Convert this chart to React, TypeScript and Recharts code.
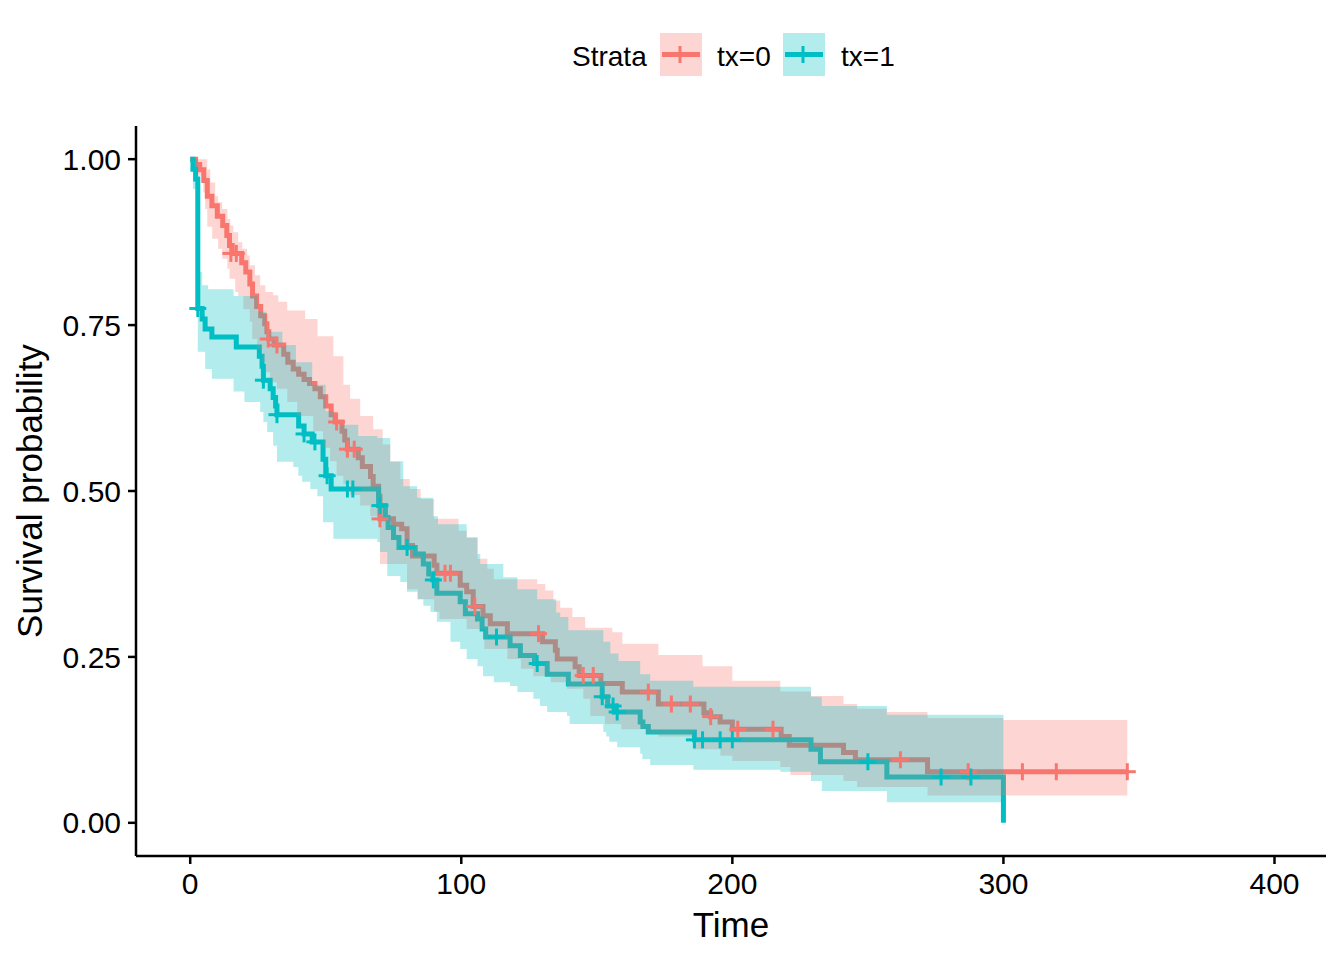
import { ComposedChart, Line, Area, Scatter, XAxis, YAxis } from "recharts"

const RED = "#F8766D"
const TEAL = "#00BFC4"
const FONT = "'Liberation Sans', Arial, sans-serif"

const xTicks = [0, 100, 200, 300, 400]
const yTicks = [0, 0.25, 0.5, 0.75, 1]
const strata = ["tx=0", "tx=1"]

// Kaplan-Meier step points: [time, survival]
const redSteps: [number, number][] = [
  [0, 1], [2, 0.992], [3.5, 0.984], [5, 0.968], [6.3, 0.944], [8, 0.93], [10, 0.914], [12, 0.9],
  [13.5, 0.885], [14.5, 0.87], [15.5, 0.858], [19, 0.844], [20.5, 0.83], [22, 0.812], [23, 0.794],
  [24.5, 0.778], [26, 0.764], [27.5, 0.752], [28.3, 0.74], [29, 0.729], [31, 0.72], [34.5, 0.706],
  [36, 0.694], [38, 0.684], [40, 0.676], [42, 0.668], [44, 0.662], [46, 0.654], [48, 0.642],
  [50, 0.628], [52, 0.615], [53.5, 0.604], [56, 0.59], [57, 0.577], [58, 0.563], [62, 0.55],
  [63.5, 0.537], [66.5, 0.522], [67.5, 0.507], [69.5, 0.492], [70, 0.458], [75, 0.45], [78, 0.443],
  [80, 0.418], [82, 0.402], [90, 0.388], [91, 0.376], [99.6, 0.358], [102, 0.348], [104.4, 0.326],
  [108, 0.312], [110.7, 0.3], [117, 0.285], [130, 0.273], [134.7, 0.26], [135.4, 0.247], [142, 0.235],
  [143.5, 0.222], [151.5, 0.21], [159.4, 0.197], [172.7, 0.179], [189.5, 0.166], [192, 0.16],
  [195.5, 0.152], [200, 0.141], [218, 0.13], [221, 0.117], [241, 0.106], [245.4, 0.095], [272, 0.077],
  [345.7, 0.077],
]

const tealSteps: [number, number][] = [
  [0, 1], [1, 0.985], [2, 0.97], [2.8, 0.775], [4.4, 0.759], [5.5, 0.744], [8, 0.732], [17, 0.717],
  [25.5, 0.703], [26.5, 0.688], [27, 0.667], [29.5, 0.654], [30.6, 0.641], [31.5, 0.628], [32, 0.615],
  [40, 0.598], [42, 0.586], [45, 0.574], [49, 0.548], [50, 0.523], [52, 0.503], [69.5, 0.478],
  [72, 0.46], [73, 0.445], [75, 0.43], [77, 0.415], [83, 0.405], [86, 0.39], [88, 0.375], [89.5, 0.366],
  [91, 0.346], [99.6, 0.333], [101.5, 0.315], [106, 0.307], [107.7, 0.292], [109, 0.28], [118, 0.267],
  [121.8, 0.252], [127, 0.24], [131.7, 0.224], [139.5, 0.209], [152, 0.19], [154, 0.176], [157, 0.167],
  [166, 0.152], [167, 0.145], [169, 0.137], [186, 0.125], [229, 0.111], [232.5, 0.092], [257, 0.069],
  [300, 0],
]

// confidence bands: [time, bound]
const redUpper: [number, number][] = [
  [0, 1], [6.3, 0.985], [7.4, 0.965], [9.2, 0.944], [10.3, 0.935], [11.8, 0.925], [13.7, 0.91],
  [14.8, 0.9], [15.9, 0.89], [17.7, 0.875], [19.2, 0.865], [21, 0.855], [22, 0.84], [23.9, 0.825],
  [25.8, 0.81], [27.7, 0.8], [30.6, 0.795], [32.5, 0.785], [35.8, 0.772], [42.4, 0.759], [47, 0.733],
  [52.8, 0.703], [56.5, 0.66], [59, 0.639], [62.7, 0.613], [67.5, 0.593], [71, 0.57], [73.8, 0.544],
  [77.5, 0.518], [81, 0.503], [85, 0.488], [90, 0.458], [99, 0.44], [102, 0.43], [106, 0.398],
  [109.6, 0.383], [112, 0.367], [128, 0.36], [131, 0.35], [134, 0.335], [136.5, 0.324], [141, 0.31],
  [145.7, 0.294], [155.7, 0.287], [159.4, 0.27], [172.7, 0.253], [189, 0.236], [200, 0.214],
  [217.7, 0.198], [229, 0.191], [241, 0.179], [246, 0.172], [257, 0.167], [272, 0.158], [300, 0.155],
]

const redLower: [number, number][] = [
  [0, 1], [2.9, 0.975], [4.8, 0.95], [5.5, 0.925], [6.3, 0.898], [8.1, 0.88], [10.3, 0.865],
  [11.8, 0.85], [13.7, 0.835], [14.5, 0.82], [16.6, 0.8], [17.7, 0.794], [19.6, 0.774], [22, 0.755],
  [22.9, 0.729], [24.7, 0.714], [26.6, 0.694], [27.7, 0.679], [29.5, 0.664], [32, 0.654], [35.8, 0.634],
  [39.5, 0.613], [45.4, 0.59], [49, 0.565], [51.6, 0.545], [54, 0.523], [56.5, 0.51], [59, 0.494],
  [62.7, 0.478], [66.4, 0.462], [70, 0.39], [80, 0.352], [84, 0.337], [90, 0.318], [92, 0.307],
  [102, 0.292], [108.5, 0.262], [117, 0.247], [122, 0.232], [126.6, 0.221], [133, 0.212], [139, 0.202],
  [145, 0.187], [147.6, 0.161], [153, 0.149], [159, 0.141], [168, 0.134], [172.7, 0.13], [185.6, 0.111],
  [195.6, 0.101], [200, 0.093], [217.7, 0.084], [221.4, 0.072], [241, 0.063], [246, 0.054], [272, 0.041],
]

const tealUpper: [number, number][] = [
  [0, 1], [2.8, 0.83], [4.4, 0.81], [6.6, 0.804], [16, 0.794], [25, 0.77], [28, 0.74], [34, 0.72],
  [39, 0.694], [45, 0.66], [50, 0.62], [53, 0.6], [62, 0.583], [69, 0.58], [73.8, 0.545], [78.6, 0.507],
  [83.7, 0.49], [89.6, 0.462], [91.4, 0.45], [102, 0.43], [106, 0.405], [107, 0.39], [115.5, 0.37],
  [120.7, 0.352], [128, 0.337], [135, 0.317], [136.5, 0.31], [139.5, 0.29], [152.4, 0.273], [155, 0.255],
  [158, 0.244], [166, 0.224], [169.7, 0.214], [185.6, 0.205], [229, 0.19], [233, 0.176], [257, 0.163],
]

const tealLower: [number, number][] = [
  [0, 1], [1, 0.955], [2, 0.935], [2.8, 0.71], [5.5, 0.684], [8, 0.669], [16, 0.65], [20, 0.634],
  [25.8, 0.619], [27, 0.604], [28.4, 0.589], [30.6, 0.568], [32, 0.544], [38, 0.536], [39.9, 0.523],
  [41.3, 0.514], [44.3, 0.503], [46.9, 0.492], [49, 0.453], [52.8, 0.428], [69, 0.423], [70, 0.408],
  [72.7, 0.372], [77.5, 0.363], [80, 0.348], [83.8, 0.337], [86, 0.327], [88.6, 0.318], [91, 0.303],
  [96, 0.273], [99.6, 0.262], [102, 0.247], [106, 0.236], [108, 0.221], [112, 0.212], [118, 0.206],
  [120.7, 0.197], [126.6, 0.187], [129, 0.176], [131.7, 0.167], [139, 0.161], [140, 0.149],
  [152.4, 0.137], [153.5, 0.13], [154.6, 0.122], [157.5, 0.114], [166, 0.104], [166.8, 0.096],
  [169.7, 0.087], [185.6, 0.08], [217.7, 0.077], [229, 0.063], [233, 0.048], [257, 0.031],
]

// censored observations
const redCensor: [number, number][] = [
  [15, 0.858], [17, 0.858], [28.8, 0.729], [32, 0.72], [54, 0.604], [58, 0.563], [60.5, 0.563],
  [70, 0.458], [94, 0.376], [96, 0.376], [105, 0.326], [128.5, 0.285], [145, 0.222], [148.7, 0.222],
  [169, 0.197], [177.5, 0.179], [184.5, 0.179], [192, 0.16], [202, 0.141], [215, 0.141], [262, 0.095],
  [287, 0.077], [307, 0.077], [319.5, 0.077], [345.7, 0.077],
]

const tealCensor: [number, number][] = [
  [2.8, 0.775], [27, 0.667], [32, 0.615], [42, 0.586], [46, 0.574], [50.5, 0.523], [58, 0.503],
  [60, 0.503], [70, 0.478], [80, 0.415], [89.7, 0.366], [113, 0.28], [128, 0.24], [152, 0.19],
  [156, 0.176], [157.5, 0.167], [186, 0.125], [189, 0.125], [195.5, 0.125], [200, 0.125], [250, 0.092],
  [277, 0.069], [288, 0.069],
]

const toRows = (pts: [number, number][]) => pts.map(([t, s]) => ({ t, s }))

const valueAt = (pts: [number, number][], t: number) => {
  let v = pts[0][1]
  for (const [x, y] of pts) if (x <= t) v = y
  return v
}

function bandRows(lower: [number, number][], upper: [number, number][], end: number) {
  const times = Array.from(new Set([...lower.map((p) => p[0]), ...upper.map((p) => p[0])])).sort((a, b) => a - b)
  const rows = times.map((t) => ({ t, band: [valueAt(lower, t), valueAt(upper, t)] }))
  rows.push({ t: end, band: [valueAt(lower, end), valueAt(upper, end)] })
  return rows
}

const redBand = bandRows(redLower, redUpper, 345.7)
const tealBand = bandRows(tealLower, tealUpper, 300)

const Cross = (color: string) => (props: any) => {
  const { cx, cy } = props
  if (cx == null || cy == null) return null
  return (
    <g stroke={color} strokeWidth={3}>
      <line x1={cx - 8.5} y1={cy} x2={cx + 8.5} y2={cy} />
      <line x1={cx} y1={cy - 8.5} x2={cx} y2={cy + 8.5} />
    </g>
  )
}

function LegendKey({ x, color }: { x: number; color: string }) {
  return (
    <g>
      <rect x={x} y={33} width={42} height={43} fill={color} fillOpacity={0.3} />
      <line x1={x + 2} y1={54.5} x2={x + 40} y2={54.5} stroke={color} strokeWidth={5} />
      <line x1={x + 20} y1={46} x2={x + 20} y2={63} stroke={color} strokeWidth={3} />
    </g>
  )
}

export default function App() {
  return (
    <div style={{ position: "relative", width: 1344, height: 960, background: "#fff", fontFamily: FONT }}>
      <style>{"body{margin:0}"}</style>
      <ComposedChart width={1344} height={960} margin={{ top: 126, right: 18, bottom: 0, left: 0 }}>
        <XAxis
          dataKey="t"
          type="number"
          domain={[-20, 419]}
          ticks={xTicks}
          allowDataOverflow
          height={104}
          tickSize={8}
          tickMargin={9}
          tick={{ fill: "#000", fontSize: 30, fontFamily: FONT }}
          axisLine={{ stroke: "#000", strokeWidth: 2.5 }}
          tickLine={{ stroke: "#000", strokeWidth: 2.5 }}
          label={{ value: "Time", position: "insideBottom", offset: 23, fill: "#000", fontSize: 35, fontFamily: FONT }}
        />
        <YAxis
          type="number"
          domain={[-0.05, 1.05]}
          ticks={yTicks}
          allowDataOverflow
          width={136}
          tickSize={8}
          tickMargin={7}
          tickFormatter={(v: number) => v.toFixed(2)}
          tick={{ fill: "#000", fontSize: 30, fontFamily: FONT }}
          axisLine={{ stroke: "#000", strokeWidth: 2.5 }}
          tickLine={{ stroke: "#000", strokeWidth: 2.5 }}
          label={{
            value: "Survival probability",
            angle: -90,
            position: "insideLeft",
            offset: 30,
            fill: "#000",
            fontSize: 35,
            fontFamily: FONT,
            style: { textAnchor: "middle" },
          }}
        />
        <Line data={toRows(redSteps)} dataKey="s" type="stepAfter" stroke={RED} strokeWidth={5} dot={false} activeDot={false} isAnimationActive={false} zIndex={50} />
        <Line data={toRows(tealSteps)} dataKey="s" type="stepAfter" stroke={TEAL} strokeWidth={5} dot={false} activeDot={false} isAnimationActive={false} zIndex={50} />
        <Area data={redBand} dataKey="band" type="stepAfter" stroke="none" fill={RED} fillOpacity={0.3} dot={false} activeDot={false} isAnimationActive={false} zIndex={100} />
        <Area data={tealBand} dataKey="band" type="stepAfter" stroke="none" fill={TEAL} fillOpacity={0.3} dot={false} activeDot={false} isAnimationActive={false} zIndex={100} />
        <Scatter data={toRows(redCensor)} dataKey="s" shape={Cross(RED)} isAnimationActive={false} zIndex={600} />
        <Scatter data={toRows(tealCensor)} dataKey="s" shape={Cross(TEAL)} isAnimationActive={false} zIndex={600} />
      </ComposedChart>
      <svg width={1344} height={100} style={{ position: "absolute", left: 0, top: 0 }}>
        <text x={572} y={66} fontSize={28} fontFamily={FONT} fill="#000">Strata</text>
        <LegendKey x={660} color={RED} />
        <text x={717} y={66} fontSize={28} fontFamily={FONT} fill="#000">{strata[0]}</text>
        <LegendKey x={783} color={TEAL} />
        <text x={841} y={66} fontSize={28} fontFamily={FONT} fill="#000">{strata[1]}</text>
      </svg>
    </div>
  )
}
